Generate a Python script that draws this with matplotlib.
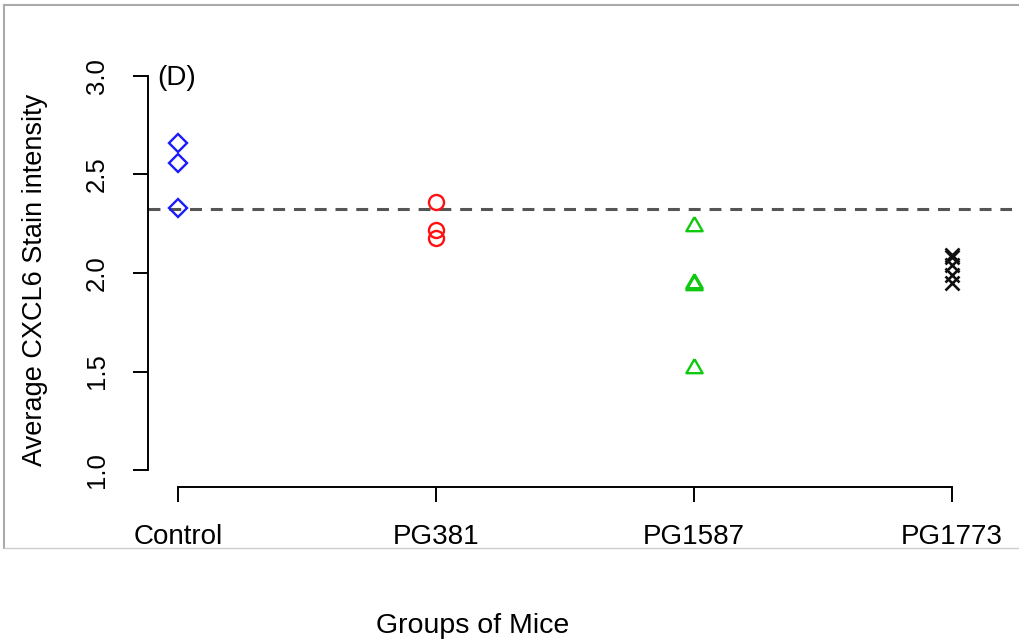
import matplotlib
matplotlib.use("Agg")
import matplotlib.pyplot as plt
from matplotlib.lines import Line2D

plt.rcParams['font.family'] = ['Liberation Sans', 'DejaVu Sans']

# Group labels and per-mouse average stain intensities
groups = ["Control", "PG381", "PG1587", "PG1773"]
control = [2.66, 2.56, 2.33]
pg381 = [2.36, 2.22, 2.18]
pg1587 = [2.24, 1.95, 1.94, 1.52]
pg1773 = [2.09, 2.08, 2.04, 1.99, 1.95]
reference_level = 2.325

yticks = [1.0, 1.5, 2.0, 2.5, 3.0]
ytick_labels = ["1.0", "1.5", "2.0", "2.5", "3.0"]

W, H = 1019, 639
fig = plt.figure(figsize=(W / 100, H / 100), dpi=100)

def fx(px):
    return px / W

def fy(py):
    return 1 - py / H

ax = fig.add_axes([fx(148), fy(487), fx(1012) - fx(148), fy(60) - fy(487)])
ax.set_xlim(0.884, 4.233)
ax.set_ylim(0.914, 3.081)

# Equilateral open triangle, like R's pch = 2
tri = [(0, 0.577), (-0.5, -0.289), (0.5, -0.289), (0, 0.577)]

series = [
    (control, dict(marker='D', ms=9.6, mec='#1a1aff', mfc='none', mew=1.7)),
    (pg381, dict(marker='o', ms=10.8, mec='#ff1010', mfc='none', mew=1.7)),
    (pg1587, dict(marker=tri, ms=13.5, mec='#10c810', mfc='none', mew=1.7)),
    (pg1773, dict(marker='x', ms=10, mec='#111111', mew=1.9)),
]
for i, (vals, style) in enumerate(series, start=1):
    ax.plot([i] * len(vals), vals, linestyle='none', **style)

ax.axhline(reference_level, color='#555555', lw=2.2,
           linestyle=(0, (3.9, 2.9)), zorder=1)

ax.text(0.919, 2.99, "(D)", fontsize=20, ha='left', va='center')

# R-style detached axes
for side in ('top', 'right'):
    ax.spines[side].set_visible(False)
ax.spines['left'].set_bounds(1.0, 3.0)
ax.spines['bottom'].set_bounds(1, 4)
ax.spines['left'].set_linewidth(1.4)
ax.spines['bottom'].set_linewidth(1.4)

ax.set_xticks([1, 2, 3, 4])
ax.set_xticklabels(groups, fontsize=20)
ax.set_yticks(yticks)
ax.set_yticklabels(ytick_labels, fontsize=18.5, rotation=90, va='center')
ax.tick_params(axis='x', length=11, width=1.4, pad=16)
ax.tick_params(axis='y', length=11, width=1.4, pad=17)

fig.text(fx(35), fy(280), "Average CXCL6 Stain intensity", rotation=90,
         fontsize=19.5, ha='center', va='center')
fig.text(fx(473), fy(626), "Groups of Mice", fontsize=20.5,
         ha='center', va='center')

# Outer panel frame
frame = dict(color='#aaaaaa', lw=1.5, transform=fig.transFigure)
fig.add_artist(Line2D([fx(4), 1], [fy(5), fy(5)], **frame))
fig.add_artist(Line2D([fx(4), fx(4)], [fy(5), fy(548)], **frame))
fig.add_artist(Line2D([fx(4), 1], [fy(548), fy(548)],
                      color='#cccccc', lw=1.0, transform=fig.transFigure))

fig.savefig("out.png", dpi=100)
